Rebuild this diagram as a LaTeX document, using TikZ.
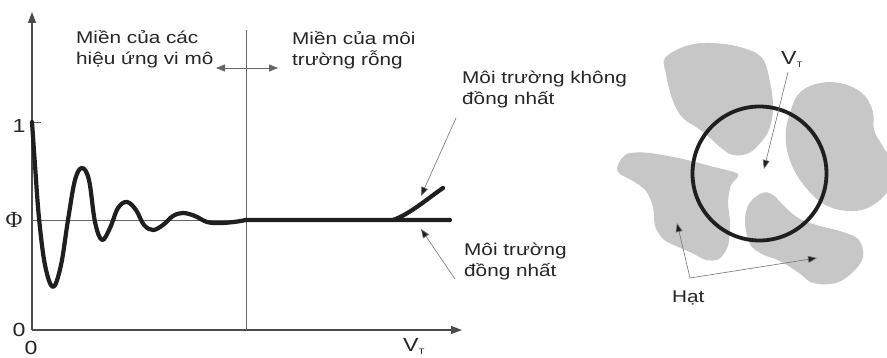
\documentclass[tikz,border=0pt]{standalone}
\usepackage{fontspec}
\setmainfont{Liberation Sans}[FakeStretch=1.22]
\newfontfamily\phifont{Liberation Serif}
\usetikzlibrary{arrows.meta}
\tikzset{
  lbl/.style={font=\fontsize{17}{21.5}\selectfont, inner sep=0pt, align=left, text=black!85},
  num/.style={font=\fontsize{19}{20}\selectfont, inner sep=0pt, text=black!85},
  axis/.style={draw=black!70, line width=1.1pt},
  thin/.style={draw=black!60, line width=0.7pt},
  heavy/.style={draw=black!88, line width=4.2pt, line cap=round, line join=round},
  ptr/.style={draw=black!55, line width=0.6pt, -{Triangle[length=9pt,width=7pt,fill=black!88]}},
  blob/.style={fill=black!22, draw=none},
}
\begin{document}
\begin{tikzpicture}[x=1pt,y=-1pt]
\clip (0,0) rectangle (887,358);
\fill[white] (0,0) rectangle (887,358);
% ---- left chart ----
\coordinate (O) at (32,330);
\coordinate (Ytop) at (32,12);
\coordinate (Xend) at (462,330);
\coordinate (P0) at (32,220);
\coordinate (P1) at (450,220);
\coordinate (V0) at (246,30);
\coordinate (V1) at (246,330);
\coordinate (T1) at (41,122);
\coordinate (T0) at (32,122);
\draw[axis, -{Triangle[length=11pt,width=8pt]}] (O) -- (Ytop);
\draw[axis, -{Triangle[length=11pt,width=8pt]}] (O) -- (Xend);
\draw[thin] (T0) -- (T1);
\draw[thin] (V0) -- (V1);
\draw[thin] (P0) -- (P1);
% double arrow
\coordinate (DA) at (216,68);
\coordinate (DB) at (278,68);
\draw[thin, line width=0.8pt, {Triangle[length=9pt,width=7pt]}-{Triangle[length=9pt,width=7pt]}] (DA) -- (DB);
% curve
\draw[heavy] plot[smooth, tension=0.6] coordinates {
 (32,122) (35,165) (39,218) (45,265) (53,287) (61,265) (68,220) (75,180) (82,168)
 (89,180) (95,222) (102,240) (110,228) (118,208) (127,202) (136,210) (144,225)
 (153,230) (163,225) (173,216) (183,213) (195,216) (207,222) (220,223) (234,222) (246,220)}
 -- (450,220);
\coordinate (B0) at (393,220);
\coordinate (B1) at (443,188);
\draw[heavy] (B0) .. controls (410,214) and (427,199) .. (B1);
% labels
\node[num] (n1) at (19,126) {1};
\node[num, font=\phifont\fontsize{23}{24}\selectfont] (nphi) at (14,219.5) {Φ};
\node[num] (n0a) at (19,330) {0};
\node[num] (n0b) at (31,348) {0};
\node[num, anchor=base west] (vt1) at (403,352) {V\textsubscript{\fontsize{8}{8}\selectfont T}};
\node[lbl, anchor=base west] (m1) at (76,65) {Miền của các\\hiệu ứng vi mô};
\node[lbl, anchor=base west] (m2) at (292,66) {Miền của môi\\trường rỗng};
\node[lbl, anchor=base west] (k1) at (462,105) {Môi trường không\\đồng nhất};
\node[lbl, anchor=base west] (k2) at (464,277) {Môi trường\\đồng nhất};
\coordinate (ka) at (456,118);
\coordinate (kb) at (421,196);
\draw[ptr] (ka) -- (kb);
\coordinate (ha) at (455,279);
\coordinate (hb) at (421,229);
\draw[ptr] (ha) -- (hb);
% ---- right figure ----
\fill[blob] plot[smooth cycle, tension=0.6] coordinates {
 (665,58) (686,46) (710,43) (740,47) (762,58) (770,82) (773,107) (770,127) (762,141)
 (749,153) (733,155) (720,147) (708,136) (696,127) (684,119) (676,108) (670,92) (666,74)};
\fill[blob] plot[smooth cycle, tension=0.6] coordinates {
 (790,113) (797,96) (810,86) (830,82) (850,86) (865,96) (873,112) (874,130) (882,145)
 (890,160) (890,185) (880,200) (862,210) (840,210) (822,203) (808,190) (795,172) (787,150) (786,130)};
\fill[blob] plot[smooth cycle, tension=0.5] coordinates {
 (617,168) (622,158) (630,153) (650,153) (683,159) (710,166) (738,174) (731,185) (728,202)
 (730,223) (728,246) (719,259) (706,260) (692,253) (676,246) (663,239) (655,226) (653,207)
 (646,191) (633,181) (620,174)};
\fill[blob] plot[smooth cycle, tension=0.6] coordinates {
 (745,222) (749,204) (762,193) (773,195) (786,208) (800,219) (820,226) (843,232) (859,240)
 (863,257) (853,272) (836,283) (813,283) (799,273) (780,261) (762,254) (750,244)};
\node[draw=black!88, line width=3.8pt, circle, minimum size=134pt, inner sep=0pt] (circ) at (759.5,173.5) {};
\node[num, anchor=base west] (vt2) at (781,65) {V\textsubscript{\fontsize{8}{8}\selectfont T}};
\coordinate (va) at (788,72);
\coordinate (vb) at (764,169);
\draw[ptr] (va) -- (vb);
\node[lbl, anchor=base west] (hat) at (672,303) {Hạt};
\coordinate (hc) at (690,278);
\coordinate (hl) at (677,223);
\coordinate (hr) at (817,258);
\draw[ptr] (hc) -- (hl);
\draw[ptr] (hc) -- (hr);
\end{tikzpicture}
\end{document}
